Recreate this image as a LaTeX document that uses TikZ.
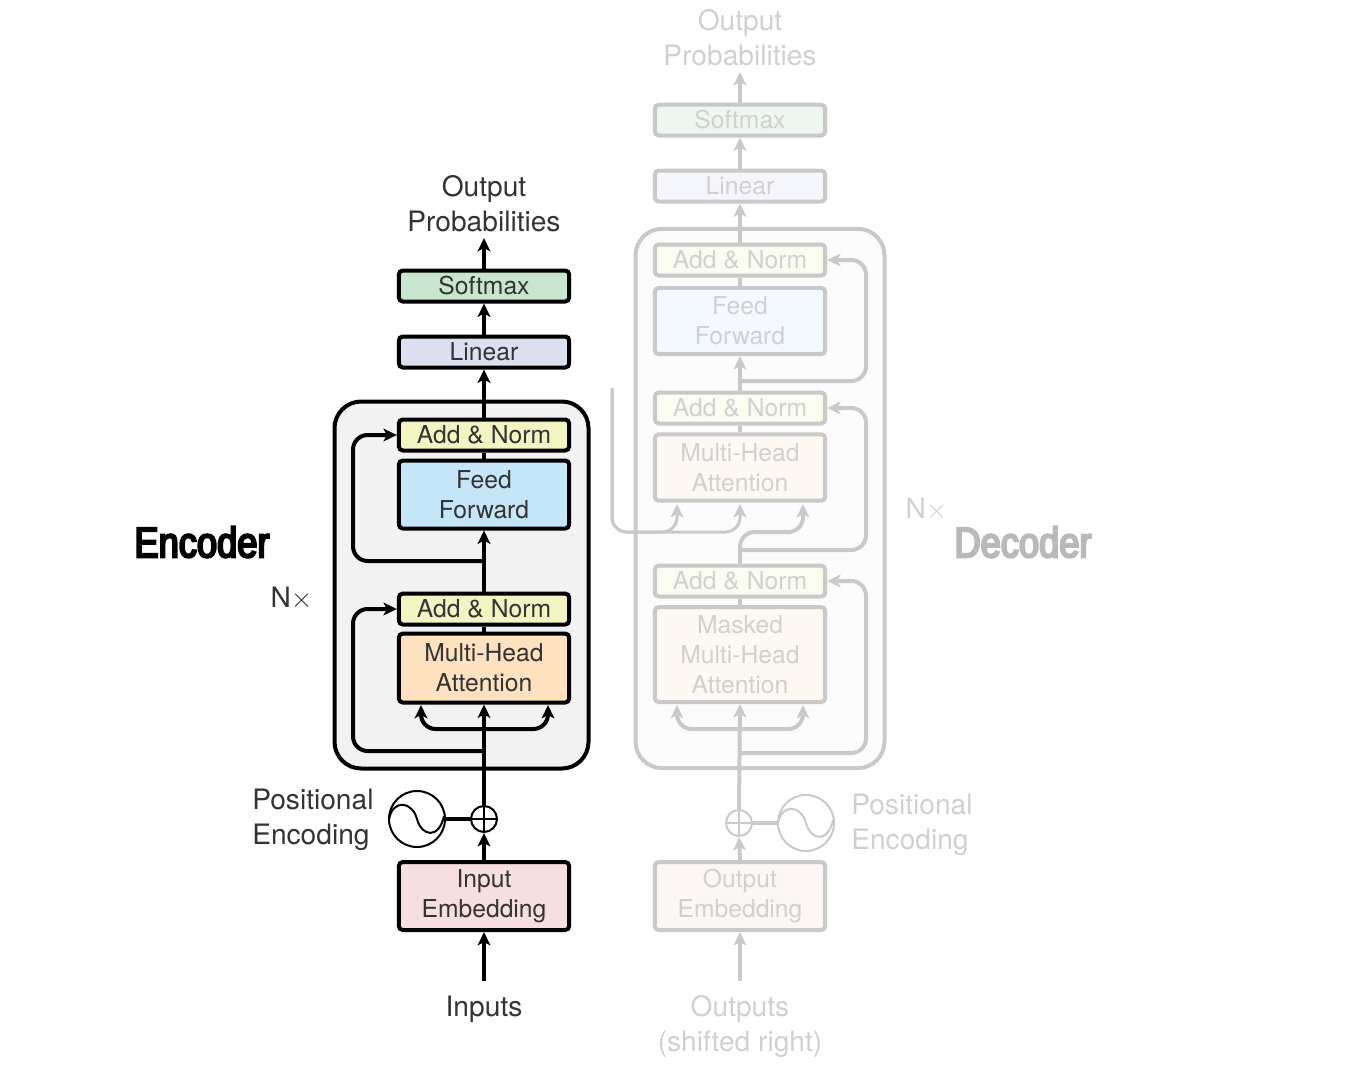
\documentclass[tikz,border=0pt]{standalone}
\usepackage{fontspec}
\setmainfont{TeX Gyre Heros}
\newfontfamily\headfont[FakeStretch=0.85,FakeBold=5]{Liberation Sans}
\usepackage{tikz}
\usetikzlibrary{calc}
\usetikzlibrary{arrows.meta}

\definecolor{encfill}{HTML}{F2F2F2}
\definecolor{encsoft}{HTML}{C8E6CD}
\definecolor{enclin}{HTML}{DCDFF0}
\definecolor{encadd}{HTML}{F2F5C1}
\definecolor{encfeed}{HTML}{C5E6F8}
\definecolor{encatt}{HTML}{FEE2BF}
\definecolor{encemb}{HTML}{F8DFDF}
\definecolor{enctext}{HTML}{333333}
\definecolor{decfill}{HTML}{FCFCFC}
\definecolor{decsoft}{HTML}{EEF7EF}
\definecolor{declin}{HTML}{F5F6FB}
\definecolor{decadd}{HTML}{FBFCEF}
\definecolor{decfeed}{HTML}{F3F9FE}
\definecolor{decatt}{HTML}{FEF8F2}
\definecolor{decemb}{HTML}{FCF6F5}
\definecolor{decline}{HTML}{C9C9C9}
\definecolor{dectext}{HTML}{D0D0D0}
\definecolor{decname}{HTML}{B9B9B9}

\tikzset{
	x=0.75pt, y=-0.75pt,
	% blocks of both stacks
	block/.style={draw, line width=3pt, rounded corners=3pt, minimum width=127.75pt, minimum height=#1, inner sep=0pt, align=center, font=\fontsize{18.5}{22.5}\selectfont},
	block/.default=23.25pt,
	% lines
	flow/.style={line width=3pt},
	arrow/.style={line width=3pt, -{Stealth[length=10pt, width=9.5pt, inset=2.5pt]}},
	label/.style={inner sep=0pt, align=center, font=\fontsize{21.1}{26.25}\selectfont},
	stackbox/.style={draw, line width=3pt, rounded corners=20pt, inner sep=0pt},
	adder/.style={draw, circle, line width=1.5pt, minimum size=19.5pt, inner sep=0pt},
	wave/.style={draw, circle, line width=1.5pt, minimum size=42pt, inner sep=0pt},
	% the decoder is greyed out
	faded/.style={draw=decline, text=dectext},
}

\newcommand{\sinewave}[2]{
	\draw[line width=1.5pt, #2] ($(#1)+(-28,0)$) .. controls ($(#1)+(-24,-20)$) and ($(#1)+(-5,-18)$) .. (#1.center) .. controls ($(#1)+(5,18)$) and ($(#1)+(22,20)$) .. ($(#1)+(27,-3)$);
}

\begin{document}
\begin{tikzpicture}
	
	\useasboundingbox (0,0) rectangle (1358,1071);
	
	% Encoder, on the left
	
	\node[stackbox, draw=black, fill=encfill, minimum width=190.5pt, minimum height=275.25pt] (EncBox) at (461.5,585) {};
	
	\node[block, fill=encsoft, text=enctext] (ESoft) at (484,286) {Softmax};
	\node[block, fill=enclin, text=enctext] (ELin) at (484,352) {Linear};
	\node[block, fill=encadd, text=enctext] (EAdd1) at (484,435) {Add \& Norm};
	\node[block=51pt, fill=encfeed, text=enctext] (EFeed) at (484,494.5) {Feed\\Forward};
	\node[block, fill=encadd, text=enctext] (EAdd2) at (484,609) {Add \& Norm};
	\node[block=51.75pt, fill=encatt, text=enctext] (EAtt) at (484,668) {Multi-Head\\Attention};
	\node[block=51pt, fill=encemb, text=enctext] (EEmb) at (484,896) {Input\\Embedding};
	
	\node[adder, fill=white] (EPlus) at (484,819) {};
	\node[wave] (EWave) at (417,819) {};
	\sinewave{EWave}{black}
	\draw[line width=1.2pt] (EPlus.north) -- (EPlus.south);
	\draw[line width=1.2pt] (EPlus.west) -- (EPlus.east);
	
	\node[label, text=enctext] (EOut) at (484,203.5) {Output\\Probabilities};
	\node[label, text=enctext] (EIn) at (484,1009) {Inputs};
	\node[label, text=enctext, align=left, anchor=west] (EPos) at (252,820) {Positional\\Encoding};
	\node[label, text=enctext] (ENx) at (291.5,598) {N$\times$};
	\node[inner sep=0pt, font=\fontsize{32}{32}\selectfont\headfont] (EncName) at (202,542) {Encoder};
	
	\coordinate (EStart) at (484,981);
	\coordinate (ERes1) at (484,751);
	\coordinate (ERes2) at (484,561);
	\coordinate (EFork) at (484,729);
	\coordinate (ELeft) at (421,705);
	\coordinate (ERight) at (548,705);
	
	\draw[arrow] (EStart) -- (EEmb.south);
	\draw[arrow] (EEmb.north) -- (EPlus.south);
	\draw[arrow] (EPlus.north) -- (EAtt.south);
	\draw[flow] (EWave.east) -- (EPlus.west);
	\draw[flow] (EAtt.north) -- (EAdd2.south);
	\draw[arrow] (EAdd2.north) -- (EFeed.south);
	\draw[flow] (EFeed.north) -- (EAdd1.south);
	\draw[arrow] (EAdd1.north) -- (ELin.south);
	\draw[arrow] (ELin.north) -- (ESoft.south);
	\draw[arrow] (ESoft.north) -- ($(EOut.south)+(0,6)$);
	
	\draw[arrow, rounded corners=11pt] (ERes1) -- ++(-131,0) |- (EAdd2.west);
	\draw[arrow, rounded corners=11pt] (ERes2) -- ++(-131,0) |- (EAdd1.west);
	\draw[arrow, rounded corners=11pt] (EFork) -| (ELeft);
	\draw[arrow, rounded corners=11pt] (EFork) -| (ERight);
	
	% Decoder, on the right
	
	\node[stackbox, faded, fill=decfill, minimum width=186.75pt, minimum height=404.5pt] (DecBox) at (760,498.5) {};
	
	\node[block, faded, fill=decsoft] (DSoft) at (740,120) {Softmax};
	\node[block, faded, fill=declin] (DLin) at (740,186) {Linear};
	\node[block, faded, fill=decadd] (DAdd1) at (740,260) {Add \& Norm};
	\node[block=49.75pt, faded, fill=decfeed] (DFeed) at (740,321) {Feed\\Forward};
	\node[block, faded, fill=decadd] (DAdd2) at (740,408) {Add \& Norm};
	\node[block=49.75pt, faded, fill=decatt] (DAtt) at (740,467.5) {Multi-Head\\Attention};
	\node[block, faded, fill=decadd] (DAdd3) at (740,581) {Add \& Norm};
	\node[block=71.25pt, faded, fill=decatt] (DMask) at (740,654.5) {Masked\\Multi-Head\\Attention};
	\node[block=51pt, faded, fill=decemb] (DEmb) at (740,896) {Output\\Embedding};
	
	\node[adder, faded, fill=white] (DPlus) at (739,823) {};
	\node[wave, faded] (DWave) at (806,823) {};
	\sinewave{DWave}{decline}
	\draw[line width=1.2pt, decline] (DPlus.north) -- (DPlus.south);
	\draw[line width=1.2pt, decline] (DPlus.west) -- (DPlus.east);
	
	\node[label, text=dectext] (DOut) at (740,37.5) {Output\\Probabilities};
	\node[label, text=dectext] (DIn) at (740,1026.5) {Outputs\\(shifted right)};
	\node[label, text=dectext, align=left, anchor=west] (DPos) at (851,825) {Positional\\Encoding};
	\node[label, text=dectext] (DNx) at (926.5,509) {N$\times$};
	\node[inner sep=0pt, text=decname, font=\fontsize{32}{32}\selectfont\headfont] (DecName) at (1023,542) {Decoder};
	
	\coordinate (DStart) at (740,981);
	\coordinate (DRes1) at (740,753);
	\coordinate (DRes2) at (740,550);
	\coordinate (DRes3) at (740,381);
	\coordinate (DFork) at (740,729);
	\coordinate (DLeft) at (677,705);
	\coordinate (DRight) at (803,705);
	\coordinate (DMem) at (612,388);
	\coordinate (DMemTurn) at (612,532);
	\coordinate (DTop1) at (677,504);
	\coordinate (DTop2) at (740,504);
	\coordinate (DTop3) at (803,504);
	\coordinate (DCross) at (770,532);
	
	\begin{scope}[decline]
		\draw[arrow] (DStart) -- (DEmb.south);
		\draw[arrow] (DEmb.north) -- (DPlus.south);
		\draw[arrow] (DPlus.north) -- (DMask.south);
		\draw[flow] (DWave.west) -- (DPlus.east);
		\draw[flow] (DMask.north) -- (DAdd3.south);
		\draw[flow] (DAtt.north) -- (DAdd2.south);
		\draw[arrow] (DAdd2.north) -- (DFeed.south);
		\draw[flow] (DFeed.north) -- (DAdd1.south);
		\draw[arrow] (DAdd1.north) -- (DLin.south);
		\draw[arrow] (DLin.north) -- (DSoft.south);
		\draw[arrow] (DSoft.north) -- ($(DOut.south)+(0,6)$);
		
		\draw[arrow, rounded corners=11pt] (DRes1) -- ++(126,0) |- (DAdd3.east);
		\draw[arrow, rounded corners=11pt] (DRes2) -- ++(126,0) |- (DAdd2.east);
		\draw[arrow, rounded corners=11pt] (DRes3) -- ++(126,0) |- (DAdd1.east);
		\draw[arrow, rounded corners=11pt] (DFork) -| (DLeft);
		\draw[arrow, rounded corners=11pt] (DFork) -| (DRight);
		
		\draw[arrow, line width=2.25pt, rounded corners=11pt] (DMem) -- (DMemTurn) -| (DTop1);
		\draw[arrow, line width=2.25pt, rounded corners=11pt] (DMem) -- (DMemTurn) -| (DTop2);
		\draw[arrow, rounded corners=11pt] (DAdd3.north) |- (DCross) -| (DTop3);
	\end{scope}
	
\end{tikzpicture}
\end{document}
